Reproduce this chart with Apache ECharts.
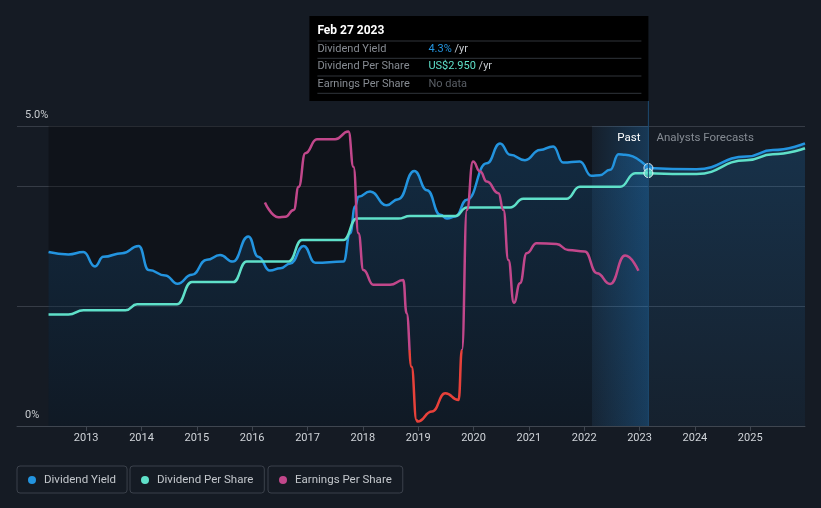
<!DOCTYPE html>
<html><head><meta charset="utf-8">
<script src="https://cdn.jsdelivr.net/npm/echarts@6/dist/echarts.min.js"></script>
<style>html,body{margin:0;padding:0;background:#151b24;}#c{width:821px;height:508px;}</style>
</head><body><div id="c"></div>
<script>
const yearTicks = [2013,2014,2015,2016,2017,2018,2019,2020,2021,2022,2023,2024,2025];
const yieldPast = [[2012.32,2.90],[2012.68,2.86],[2012.95,2.90],[2013.16,2.66],[2013.31,2.82],[2013.65,2.88],[2013.95,3.00],[2014.13,2.60],[2014.43,2.51],[2014.65,2.37],[2014.91,2.52],[2015.18,2.77],[2015.42,2.85],[2015.65,2.74],[2015.93,3.16],[2016.11,2.82],[2016.32,2.59],[2016.51,2.63],[2016.69,2.71],[2016.93,3.00],[2017.14,2.72],[2017.65,2.74],[2017.77,3.21],[2017.86,3.66],[2017.92,3.82],[2018.13,3.91],[2018.43,3.68],[2018.64,3.78],[2018.93,4.25],[2019.16,3.93],[2019.40,3.52],[2019.52,3.46],[2019.67,3.49],[2019.88,3.77],[2020.24,4.38],[2020.48,4.71],[2020.66,4.52],[2020.93,4.43],[2021.20,4.60],[2021.44,4.66],[2021.62,4.39],[2021.92,4.41],[2022.13,4.17],[2022.28,4.18],[2022.47,4.27],[2022.62,4.53],[2022.74,4.52],[2023.16,4.30]];
const yieldForecast = [[2023.16,4.30],[2024.03,4.28],[2024.93,4.49],[2025.41,4.60],[2025.99,4.71]];
const dpsPast = [[2012.32,1.30],[2012.68,1.30],[2012.95,1.35],[2013.71,1.35],[2013.92,1.42],[2014.64,1.42],[2014.91,1.68],[2015.66,1.68],[2015.90,1.92],[2016.66,1.92],[2016.90,2.17],[2017.65,2.17],[2017.89,2.42],[2018.64,2.42],[2018.85,2.45],[2019.67,2.45],[2019.88,2.55],[2020.66,2.55],[2020.90,2.65],[2021.68,2.65],[2021.92,2.79],[2022.65,2.79],[2022.92,2.95],[2023.16,2.95]];
const dpsForecast = [[2023.16,2.95],[2024.03,2.94],[2024.93,3.10],[2025.41,3.17],[2025.99,3.24]];
const epsPast = [[2016.23,3.69],[2016.47,3.32],[2016.60,3.33],[2016.75,3.50],[2016.84,4.08],[2016.96,4.92],[2017.17,5.27],[2017.50,5.27],[2017.74,5.46],[2017.83,4.58],[2017.92,2.92],[2018.01,2.00],[2018.19,1.63],[2018.49,1.63],[2018.73,1.75],[2018.79,0.92],[2018.88,-0.42],[2018.97,-1.75],[2018.99,-1.79],[2019.25,-1.54],[2019.49,-1.08],[2019.73,-1.25],[2019.79,0],[2019.88,3.50],[2019.99,4.71],[2020.12,4.46],[2020.24,4.21],[2020.45,3.92],[2020.54,3.50],[2020.63,2.25],[2020.73,1.18],[2020.84,1.67],[2020.96,2.42],[2021.14,2.67],[2021.50,2.65],[2021.71,2.50],[2022.01,2.46],[2022.23,1.92],[2022.47,1.65],[2022.74,2.36],[2022.98,1.98]];
const nowDate = 2023.16;
const pastStart = 2012.32;
const lastYearStart = 2022.14;
const tipDate = 'Feb 27 2023';
const tipRows = [
  {label:'Dividend Yield', value:'4.3%', unit:' /yr', color:'#2394df'},
  {label:'Dividend Per Share', value:'US$2.950', unit:' /yr', color:'#5fe0c9'},
  {label:'Earnings Per Share', value:'No data', unit:'', color:'#5a5f66'}
];
const nowYield = 4.30, nowDps = 2.95;

const C_YIELD = '#2394df', C_DPS = '#5fe0c9', C_EPS = '#c2478b', C_NEG = '#e8413a';
const FONT = 'Roboto, "Noto Sans", sans-serif';
const gridColor = '#363c46';

function legendBox(name, color, left) {
  return {
    data: [{name: name, icon: 'circle', itemStyle: {color: color}}],
    left: left, top: 466, orient: 'horizontal',
    padding: [8, 11, 7, 11], itemWidth: 8, itemHeight: 8,
    borderColor: '#3b414b', borderWidth: 1, borderRadius: 3,
    selectedMode: false,
    textStyle: {color: '#c3c7cc', fontSize: 11.5, fontFamily: FONT, padding: [0, 0, 0, 3]}
  };
}

const lineBase = {type: 'line', smooth: 0.5, smoothMonotone: 'x', showSymbol: false, symbol: 'none', animation: false};
const areaGrad = new echarts.graphic.LinearGradient(0, 0, 0, 1, [
  {offset: 0, color: 'rgba(33,150,243,0.26)'}, {offset: 1, color: 'rgba(33,150,243,0.07)'}]);

const option = {
  backgroundColor: '#151b24',
  animation: false,
  grid: {left: 17, right: 16, top: 126, bottom: 82},
  xAxis: {
    type: 'value', min: 2011.75, max: 2025.99,
    axisLine: {show: true, lineStyle: {color: '#3f4650', width: 1}},
    axisTick: {show: true, length: 5, customValues: yearTicks, lineStyle: {color: '#3f4650'}},
    axisLabel: {customValues: yearTicks, color: '#d0d4d9', fontSize: 11, fontFamily: FONT, margin: 7,
      formatter: v => String(Math.round(v))},
    splitLine: {show: false}
  },
  yAxis: [
    {type: 'value', min: 0, max: 5, interval: 1,
      axisLine: {show: false}, axisTick: {show: false},
      axisLabel: {inside: true, margin: 8, color: '#c8ccd0', fontSize: 11, fontFamily: FONT,
        verticalAlign: 'bottom', padding: [0, 0, 5, 0],
        formatter: v => v === 5 ? '5.0%' : (v === 0 ? '0%' : '')},
      splitLine: {show: true, lineStyle: {width: 1, color: ['rgba(0,0,0,0)', 'rgba(0,0,0,0)', gridColor, 'rgba(0,0,0,0)', gridColor, gridColor]}}
    },
    {type: 'value', min: 0, max: 3.5, show: false},
    {type: 'value', min: -1.9, max: 5.6, show: false}
  ],
  legend: [
    legendBox('Dividend Yield', C_YIELD, 17),
    legendBox('Dividend Per Share', C_DPS, 130),
    legendBox('Earnings Per Share', C_EPS, 268)
  ],
  series: [
    Object.assign({}, lineBase, {name: 'bg', data: [], z: 1, yAxisIndex: 0,
      markArea: {silent: true, z: 1, data: [
        [{xAxis: pastStart, itemStyle: {color: 'rgba(0,0,0,0.28)'}}, {xAxis: lastYearStart}],
        [{xAxis: lastYearStart, itemStyle: {color: new echarts.graphic.LinearGradient(0, 0, 1, 0, [
          {offset: 0, color: 'rgba(33,150,243,0.03)'}, {offset: 1, color: 'rgba(33,150,243,0.24)'}])}}, {xAxis: nowDate}]
      ]}}),
    Object.assign({}, lineBase, {name: 'Dividend Yield', data: yieldPast, z: 3, yAxisIndex: 0,
      lineStyle: {color: C_YIELD, width: 2.5}, itemStyle: {color: C_YIELD}, areaStyle: {color: areaGrad}}),
    Object.assign({}, lineBase, {name: 'Dividend Yield', data: yieldForecast, z: 3, yAxisIndex: 0,
      lineStyle: {color: C_YIELD, width: 2.5}, itemStyle: {color: C_YIELD}, areaStyle: {color: areaGrad}}),
    Object.assign({}, lineBase, {name: 'Dividend Per Share', data: dpsPast, z: 4, yAxisIndex: 1,
      lineStyle: {color: C_DPS, width: 2.5}, itemStyle: {color: C_DPS}}),
    Object.assign({}, lineBase, {name: 'Dividend Per Share', data: dpsForecast, z: 4, yAxisIndex: 1,
      lineStyle: {color: C_DPS, width: 2.5}, itemStyle: {color: C_DPS}}),
    Object.assign({}, lineBase, {name: 'Earnings Per Share', data: epsPast, z: 5, yAxisIndex: 2,
      lineStyle: {color: C_EPS, width: 2.5}, itemStyle: {color: C_EPS}}),
    {type: 'scatter', name: 'Dividend Yield', yAxisIndex: 0, z: 6, symbolSize: 9, animation: false,
      data: [[nowDate, nowYield]], itemStyle: {color: C_YIELD, borderColor: '#ffffff', borderWidth: 1}},
    {type: 'scatter', name: 'Dividend Per Share', yAxisIndex: 1, z: 6, symbolSize: 9, animation: false,
      data: [[nowDate, nowDps]], itemStyle: {color: C_DPS, borderColor: '#ffffff', borderWidth: 1}}
  ]
};

const chart = echarts.init(document.getElementById('c'), null, {renderer: 'canvas'});
chart.setOption(option);

const nowX = chart.convertToPixel({xAxisIndex: 0}, nowDate);
const topY = chart.convertToPixel({yAxisIndex: 0}, 5);
const baseY = chart.convertToPixel({yAxisIndex: 0}, 0);
const zeroEpsY = chart.convertToPixel({yAxisIndex: 2}, 0);
const f = (zeroEpsY - topY) / (baseY - topY);
const epsGrad = new echarts.graphic.LinearGradient(0, topY, 0, baseY, [
  {offset: 0, color: C_EPS}, {offset: f, color: C_EPS}, {offset: f, color: C_NEG}, {offset: 1, color: C_NEG}], true);

const boxW = 339, boxH = 85, boxTop = 16, boxLeft = nowX - boxW;
const tipChildren = [
  {type: 'rect', shape: {x: 0, y: 0, width: boxW, height: boxH}, style: {fill: '#000000'}},
  {type: 'text', x: 8, y: 15, style: {text: tipDate, fill: '#ffffff', font: 'bold 12px ' + FONT, verticalAlign: 'middle'}}
];
const sepY = [25, 42.3, 60, 77.3];
sepY.forEach(y => tipChildren.push({type: 'line', shape: {x1: 8, y1: y, x2: 332, y2: y}, style: {stroke: '#30353b', lineWidth: 1}}));
const rowY = [33.5, 50.5, 68];
tipRows.forEach((r, i) => {
  tipChildren.push({type: 'text', x: 8, y: rowY[i], style: {text: r.label, fill: '#868b92', font: '11px ' + FONT, verticalAlign: 'middle'}});
  tipChildren.push({type: 'text', x: 119, y: rowY[i], style: {
    text: '{v|' + r.value + '}' + (r.unit ? '{u|' + r.unit + '}' : ''),
    font: '11px ' + FONT, verticalAlign: 'middle',
    rich: {v: {fill: r.color, fontSize: 11, fontFamily: FONT}, u: {fill: '#c5c9ce', fontSize: 11, fontFamily: FONT}}
  }});
});

chart.setOption({
  series: [{}, {}, {}, {}, {}, {lineStyle: {color: epsGrad}}],
  graphic: [
    {type: 'line', z: 10, shape: {x1: nowX, y1: boxTop + boxH, x2: nowX, y2: baseY}, style: {stroke: '#1d4a70', lineWidth: 1}},
    {type: 'text', z: 10, x: nowX - 8, y: topY + 12, style: {text: 'Past', fill: '#ffffff', font: '11.5px ' + FONT, align: 'right', verticalAlign: 'middle'}},
    {type: 'text', z: 10, x: nowX + 8, y: topY + 12, style: {text: 'Analysts Forecasts', fill: '#858b93', font: '11.5px ' + FONT, align: 'left', verticalAlign: 'middle'}},
    {type: 'group', z: 20, x: boxLeft, y: boxTop, children: tipChildren}
  ]
});
</script></body></html>
